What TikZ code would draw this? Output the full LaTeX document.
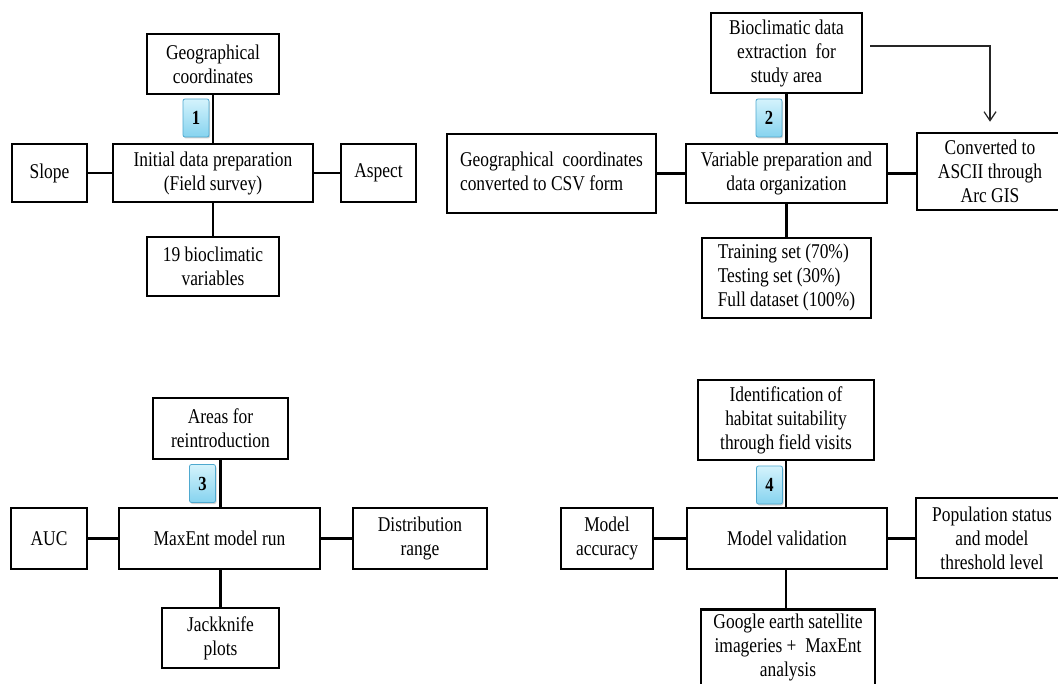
\documentclass[tikz,border=0pt]{standalone}
\usepackage{fontspec}
\setmainfont{Liberation Serif}[FakeStretch=0.83]
\usetikzlibrary{arrows.meta,shadows}
\definecolor{badgetop}{HTML}{D4F3FC}
\definecolor{badgebot}{HTML}{86D3EF}
\definecolor{badgeedge}{HTML}{4FA9CF}
\tikzset{
  box/.style={draw, line width=2.5pt, inner sep=0pt, align=center,
    font=\fontsize{21}{24}\selectfont},
  conn/.style={line width=2.5pt},
  badge/.style={draw=badgeedge, line width=0.8pt, rounded corners=2pt,
    top color=badgetop, bottom color=badgebot, minimum width=26pt,
    minimum height=38pt, inner sep=0pt,
    drop shadow={shadow xshift=1pt, shadow yshift=-1.5pt, opacity=0.35},
    font=\fontsize{20}{22}\selectfont\bfseries},
  thinarrow/.style={line width=1.2pt, black!85, -{Straight Barb[length=9pt,width=12pt]}}
}
\newcommand{\bx}[6]{\node[box, minimum width={(#3-#2)*1pt}, minimum height={(#5-#4)*1pt}] (#1) at ({(#2+#3)/2},{(#4+#5)/2}) {#6};}
\begin{document}
\begin{tikzpicture}[x=1pt,y=-1pt]
\clip (0,0) rectangle (1058,684);
\fill[white] (0,0) rectangle (1058,684);
% Panel 1
\bx{geoA}{147}{279}{34}{94}{Geographical\\coordinates}
\bx{init}{113}{313}{144}{202}{Initial data preparation\\(Field survey)}
\bx{slope}{12}{87}{144}{202}{Slope}
\bx{aspect}{341}{416}{144}{202}{Aspect}
\bx{bioA}{147}{279}{237}{296}{19 bioclimatic\\variables}
\draw[conn] (geoA.south) -- (init.north);
\draw[conn] (init.south) -- (bioA.north);
\draw[conn] (slope.east) -- (init.west);
\draw[conn] (init.east) -- (aspect.west);
\node[badge] (bA) at (196,118) {1};
% Panel 2
\bx{bioext}{711}{862}{13}{93}{Bioclimatic data\\extraction~ for\\study area}
\bx{var}{686}{887}{144}{203}{Variable preparation and\\data organization}
\bx{csv}{447}{656}{134}{213}{\begin{tabular}{@{}l@{}}Geographical~ coordinates\\converted to CSV form\end{tabular}}
\bx{conv}{917}{1063}{133}{210}{Converted to\\ASCII through\\Arc GIS}
\bx{train}{702}{871}{238}{318}{\begin{tabular}{@{}l@{}}Training set (70\%)\\Testing set (30\%)\\Full dataset (100\%)\end{tabular}}
\draw[conn] (bioext.south) -- (var.north);
\draw[conn] (var.south) -- (train.north);
\draw[conn] (csv.east |- var.west) -- (var.west);
\draw[conn] (var.east) -- (var.east -| conv.west);
\coordinate (arrS) at (870,46);
\draw[thinarrow, shorten >=10pt] (arrS) -| (conv.north);
\node[badge] (bB) at (769,118) {2};
% Panel 3
\bx{areas}{153}{288}{398}{459}{Areas for\\reintroduction}
\bx{maxent}{119}{320}{508}{569}{MaxEnt model run}
\bx{auc}{11}{87}{508}{569}{AUC}
\bx{dist}{353}{487}{508}{569}{Distribution\\range}
\bx{jack}{162}{279}{608}{668}{Jackknife\\plots}
\draw[conn] (areas.south) -- (areas.south |- maxent.north);
\draw[conn] (maxent.south -| jack.north) -- (jack.north);
\draw[conn] (auc.east) -- (maxent.west);
\draw[conn] (maxent.east) -- (dist.west);
\node[badge] (bC) at (202.5,483.5) {3};
% Panel 4
\bx{ident}{698}{874}{380}{460}{Identification of\\habitat suitability\\through field visits}
\bx{valid}{687}{887}{508}{569}{Model validation}
\bx{acc}{561}{653}{508}{569}{Model\\accuracy}
\bx{pop}{916}{1068}{498}{578}{Population status\\and model\\threshold level}
\node[box, minimum width=174pt, minimum height=110pt, anchor=north, inner sep=0pt] (google) at (788,608) {};
\node[box, draw=none, anchor=north, align=center] (gtext) at (788,613) {Google earth satellite\\imageries + ~MaxEnt\\analysis};
\draw[conn] (ident.south) -- (ident.south |- valid.north);
\draw[conn] (ident.south |- valid.south) -- (ident.south |- google.north);
\draw[conn] (acc.east) -- (valid.west);
\draw[conn] (valid.east) -- (valid.east -| pop.west);
\node[badge] (bD) at (769.5,485) {4};
\end{tikzpicture}
\end{document}
